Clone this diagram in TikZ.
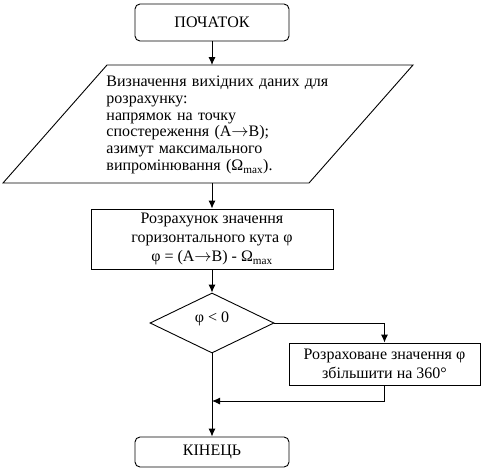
\documentclass[tikz,border=0pt]{standalone}
\usepackage{fontspec}
\setmainfont{Liberation Serif}
\usetikzlibrary{shapes.geometric,arrows.meta}
\newcommand{\toarr}{\ensuremath{\rightarrow}}
\begin{document}
\begin{tikzpicture}[x=1pt,y=-1pt,line width=0.9pt,
font=\fontsize{16}{19}\selectfont,
term/.style={draw,rounded corners=5pt,minimum width=154pt,inner sep=0pt},
proc/.style={draw,align=center,inner sep=0pt},
cond/.style={draw,diamond,minimum width=124pt,minimum height=60pt,inner sep=0pt},
arr/.style={draw,-{Latex[length=8pt,width=7pt]}},
]
\useasboundingbox (0,0) rectangle (485,469);
\node[term,minimum height=37pt] (start) at (212,22.5) {ПОЧАТОК};
\node[align=left,text width=225pt,anchor=west,inner sep=0pt,
    font=\fontsize{16}{16.8}\selectfont] (data) at (106,125)
    {Визначення вихідних даних для\\ розрахунку:\\ напрямок на точку\\
     спостереження (A\toarr B);\\ азимут максимального\\
     випромінювання (Ω\textsubscript{max}).};
\draw (3,183) -- (309,183) -- (413,65) -- (107,65) -- cycle;
\coordinate (dtop) at (212,65);
\coordinate (dbot) at (212,183);
\node[proc,minimum width=242pt,minimum height=60pt] (calc) at (212,239)
    {Розрахунок значення\\ горизонтального кута φ\\ φ = (A\toarr B) - Ω\textsubscript{max}};
\node[cond,text height=11pt,text depth=13pt] (check) at (212,323) {φ < 0};
\node[proc,minimum width=191pt,minimum height=42pt] (add) at (384.5,364)
    {Розраховане значення φ\\ збільшити на 360°};
\coordinate (join) at (212,401);
\node[term,minimum height=30pt] (stop) at (212,452) {КІНЕЦЬ};
\path[arr] (start) -- (dtop);
\path[arr] (dbot) -- (calc);
\path[arr] (calc) -- (check);
\path[arr] (check.east) -| (add.north);
\path[arr] (add.south) |- (join);
\path[arr] (check.south) -- (stop);
\end{tikzpicture}
\end{document}
